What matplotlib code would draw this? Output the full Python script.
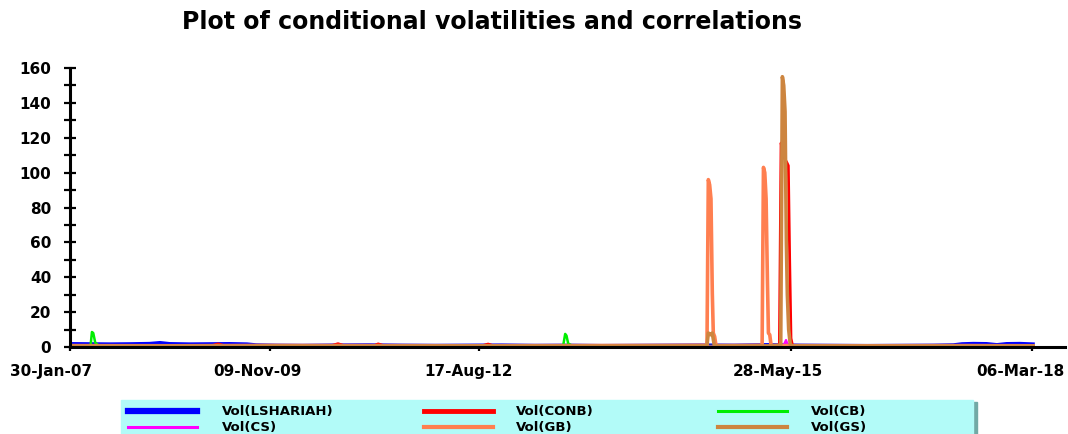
import numpy as np
import matplotlib.pyplot as plt
from matplotlib.lines import Line2D
from matplotlib.patches import Rectangle
from matplotlib.transforms import ScaledTranslation

# data (observation index, value)
lsh_x = [0, 60, 120, 180, 240, 271, 300, 360, 420, 480, 533, 560, 620, 700, 800, 900, 1000, 1100, 1200, 1300,
         1400, 1500, 1600, 1700, 1800, 1900, 2000, 2100, 2200, 2300, 2400, 2500, 2600, 2660, 2686, 2720, 2760,
         2791, 2820, 2860, 2900]
lsh_y = [1.9, 1.8, 1.7, 1.8, 2.0, 2.5, 1.9, 1.7, 1.8, 1.9, 1.7, 1.2, 1.0, 0.9, 1.1, 1.2, 1.0, 0.9, 1.0, 1.1,
         0.9, 1.0, 0.8, 0.9, 1.0, 1.1, 1.0, 1.3, 1.0, 0.9, 0.8, 0.9, 1.0, 1.2, 1.8, 2.0, 1.9, 1.3, 1.9, 2.0, 1.7]

conb_x = [0, 100, 200, 300, 420, 446, 470, 600, 780, 807, 830, 900, 910, 928, 950, 1100, 1235, 1259, 1280,
          1400, 1600, 1800, 1900, 2000, 2100, 2130, 2136, 2141, 2146, 2152, 2158, 2163, 2167, 2171, 2176,
          2200, 2400, 2600, 2800, 2900]
conb_y = [0.4, 0.5, 0.3, 0.5, 0.4, 1.8, 0.4, 0.5, 0.4, 1.9, 0.5, 0.4, 0.3, 1.8, 0.4, 0.5, 0.4, 1.7, 0.4,
          0.5, 0.4, 0.3, 0.5, 0.4, 0.5, 0.6, 1.0, 117, 112, 108, 106, 104, 50, 5, 0.5,
          0.4, 0.3, 0.4, 0.3, 0.4]

cb_x = [0, 50, 62, 66, 70, 76, 85, 100, 300, 600, 900, 1200, 1470, 1485, 1491, 1495, 1500, 1510, 1530,
        1800, 2100, 2400, 2700, 2900]
cb_y = [0.6, 0.6, 0.8, 8.6, 8.0, 2.5, 1.0, 0.6, 0.7, 0.6, 0.5, 0.6, 0.6, 0.8, 7.5, 6.5, 2.0, 1.0, 0.6,
        0.5, 0.6, 0.5, 0.6, 0.5]

cs_x = [0, 500, 1000, 1500, 2000, 2140, 2150, 2156, 2162, 2170, 2500, 2900]
cs_y = [0.3, 0.2, 0.3, 0.2, 0.3, 0.3, 1.5, 4.0, 1.0, 0.3, 0.2, 0.3]

gb_x = [0, 300, 600, 900, 1200, 1500, 1800, 1915, 1918, 1922, 1926, 1930, 1934, 1937, 1941, 1945, 1950,
        2050, 2084, 2088, 2092, 2096, 2100, 2103, 2107, 2111, 2120, 2400, 2700, 2900]
gb_y = [0.8, 0.7, 0.9, 0.8, 0.7, 0.8, 0.9, 1.0, 1.2, 96, 93, 85, 31, 8, 6, 1.0, 0.8,
        0.9, 1.0, 103, 100, 85, 38, 8, 7, 1.0, 0.8, 0.7, 0.8, 0.7]

gs_x = [0, 400, 800, 1200, 1600, 1910, 1918, 1922, 1930, 1934, 1940, 1950, 2100, 2140, 2145, 2149, 2153,
        2157, 2160, 2164, 2169, 2180, 2500, 2900]
gs_y = [0.5, 0.6, 0.5, 0.6, 0.5, 0.6, 1.0, 8.0, 7.0, 8.0, 1.0, 0.6, 0.6, 1.0, 155, 150, 135,
        60, 30, 10, 1.0, 0.6, 0.5, 0.6]

tick_pos = [0, 602, 1232, 2171, 2897]
tick_lab = ['30-Jan-07', '09-Nov-09', '17-Aug-12', '28-May-15', '06-Mar-18']
lab_shift = [-19, -12, -11, -13, -12]  # pixels

series = [
    ('Vol(LSHARIAH)', lsh_x, lsh_y, '#0000ff', 2.4, 4.5),
    ('Vol(CONB)', conb_x, conb_y, '#ff0000', 2.0, 3.5),
    ('Vol(CB)', cb_x, cb_y, '#00ee00', 1.8, 2.2),
    ('Vol(CS)', cs_x, cs_y, '#ff00ff', 1.6, 2.2),
    ('Vol(GB)', gb_x, gb_y, '#ff7f50', 2.6, 3.0),
    ('Vol(GS)', gs_x, gs_y, '#cd853f', 2.6, 3.0),
]

fig = plt.figure(figsize=(10.68, 4.34), dpi=100)
ax = fig.add_axes([70/1068, 87/434, 995/1068, 279/434])

for name, xs, ys, c, lw, lw_leg in series:
    ax.plot(xs, ys, color=c, lw=lw)

ax.set_xlim(0, 2996)
ax.set_ylim(0, 160)
for s in ['top', 'right']:
    ax.spines[s].set_visible(False)
for s in ['left', 'bottom']:
    ax.spines[s].set_linewidth(2.2)
    ax.spines[s].set_zorder(5)

ax.set_yticks(np.arange(0, 161, 20))
ax.set_yticks(np.arange(10, 160, 20), minor=True)
ax.tick_params(axis='y', which='both', direction='inout', length=9, width=1.6, pad=9)
ax.set_xticks(tick_pos)
ax.set_xticklabels(tick_lab)
ax.tick_params(axis='x', direction='out', length=3, width=1.6, pad=9)
for lab in ax.get_yticklabels() + ax.get_xticklabels():
    lab.set_fontweight('bold')
    lab.set_fontsize(11)
for lab, dx in zip(ax.get_xticklabels(), lab_shift):
    lab.set_transform(lab.get_transform() + ScaledTranslation(dx/100, 0, fig.dpi_scale_trans))

fig.text(492/1068, 1 - 22/434, 'Plot of conditional volatilities and correlations',
         ha='center', va='center', fontsize=17, fontweight='bold')

# legend box
fig.patches.append(Rectangle((973/1068, -0.05), 4/1068, 1 - 402/434 + 0.05,
                             transform=fig.transFigure, color='#72a9a5', zorder=0))
fig.patches.append(Rectangle((121/1068, -0.05), 852/1068, 1 - 400/434 + 0.05,
                             transform=fig.transFigure, color='#b2fbf8', zorder=1))
line_x0 = [128, 424, 718]
text_x0 = [222, 516, 811]
row_y = [411, 427]
for i, (name, xs, ys, c, lw, lw_leg) in enumerate(series):
    col, row = i % 3, i // 3
    yy = 1 - row_y[row]/434
    fig.lines.append(Line2D([line_x0[col]/1068, (line_x0[col] + 69)/1068], [yy, yy],
                            transform=fig.transFigure, color=c, lw=lw_leg, zorder=3))
    fig.text(text_x0[col]/1068, yy, name, ha='left', va='center', fontsize=9.5, fontweight='bold')

fig.savefig('out.png', dpi=100)
